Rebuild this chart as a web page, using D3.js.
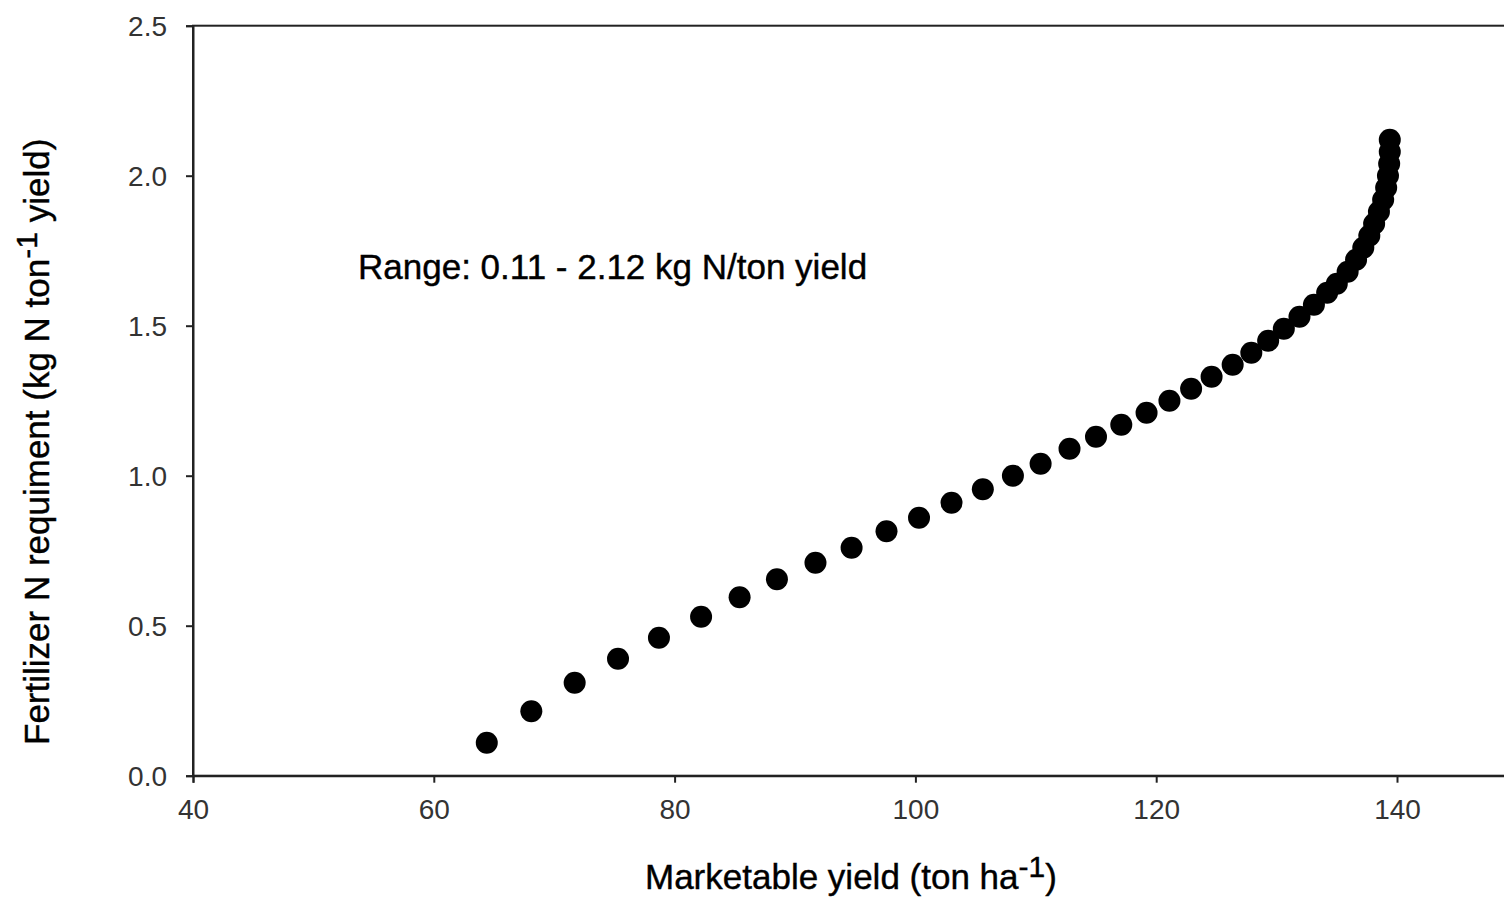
<!DOCTYPE html>
<html>
<head>
<meta charset="utf-8">
<script src="https://cdn.jsdelivr.net/npm/d3@7"></script>
<style>
  html, body { margin: 0; padding: 0; background: #fff; overflow: hidden; }
  svg { display: block; }
  .tick text { font-family: "Liberation Sans", Arial, sans-serif; font-size: 28px; fill: #333; }
  .title { font-family: "Liberation Sans", Arial, sans-serif; font-size: 35px; fill: #000; stroke: #000; stroke-width: 0.4px; }
</style>
</head>
<body>
<svg id="chart" width="1504" height="899"></svg>
<script>
// Marketable yield (ton/ha) and fertilizer N requirement (kg N per ton yield)
const yieldValues = [
  64.4, 68.1, 71.7, 75.3, 78.7, 82.2, 85.4, 88.5, 91.7, 94.7,
  97.6, 100.3, 103.0, 105.6, 108.1, 110.4, 112.8, 115.0, 117.1, 119.2,
  121.1, 122.9, 124.6, 126.35, 127.9, 129.3, 130.6, 131.9, 133.1, 134.2,
  135.0, 135.9, 136.6, 137.2, 137.7, 138.1, 138.5, 138.85, 139.1, 139.25,
  139.35, 139.4, 139.4
];
const nRequirement = [
  0.11, 0.215, 0.31, 0.39, 0.46, 0.53, 0.595, 0.655, 0.71, 0.76,
  0.815, 0.86, 0.91, 0.955, 1.0, 1.04, 1.09, 1.13, 1.17, 1.21,
  1.25, 1.29, 1.33, 1.37, 1.41, 1.45, 1.49, 1.53, 1.57, 1.61,
  1.64, 1.68, 1.72, 1.76, 1.80, 1.84, 1.88, 1.92, 1.96, 2.00,
  2.04, 2.08, 2.12
];
const xTicks = [40, 60, 80, 100, 120, 140];
const yTicks = [0, 0.5, 1.0, 1.5, 2.0, 2.5];
const rangeNote = "Range: 0.11 - 2.12 kg N/ton yield";

const svg = d3.select("#chart");
const plotLeft = 193, plotTop = 25.7, plotBottom = 775.7;

const x = d3.scaleLinear().domain([40, 160]).range([plotLeft, plotLeft + 12.04 * 120]);
const y = d3.scaleLinear().domain([0, 2.5]).range([plotBottom, plotTop]);

// plot frame
svg.append("rect")
  .attr("x", x(40)).attr("y", y(2.5))
  .attr("width", x(160) - x(40)).attr("height", y(0) - y(2.5))
  .attr("fill", "none").attr("stroke", "#222").attr("stroke-width", 2);

// x axis
const gx = svg.append("g").attr("transform", `translate(0,${y(0)})`)
  .call(d3.axisBottom(x).tickValues(xTicks).tickFormat(d3.format("d")).tickSize(7).tickPadding(16));
// y axis
const gy = svg.append("g").attr("transform", `translate(${x(40)},0)`)
  .call(d3.axisLeft(y).tickValues(yTicks).tickFormat(d3.format(".1f")).tickSize(7).tickPadding(19));

[gx, gy].forEach(g => {
  g.select(".domain").attr("stroke", "#222").attr("stroke-width", 2);
  g.selectAll(".tick line").attr("stroke", "#222").attr("stroke-width", 2);
  g.selectAll(".tick text").attr("font-family", null).attr("font-size", null).attr("fill", null);
});
gy.selectAll(".tick text").attr("dy", "0.36em");

// data points
const pts = yieldValues.map((v, i) => ({ x: v, y: nRequirement[i] }));
svg.append("g").selectAll("circle").data(pts).join("circle")
  .attr("cx", d => x(d.x)).attr("cy", d => y(d.y))
  .attr("r", 11).attr("fill", "#000");

// annotation
svg.append("text").attr("class", "title")
  .attr("x", 358).attr("y", 279).text(rangeNote);

// x axis title
const xt = svg.append("text").attr("class", "title").attr("x", 645).attr("y", 889);
xt.append("tspan").text("Marketable yield (ton ha");
xt.append("tspan").attr("dy", -12).attr("font-size", 30).text("-1");
xt.append("tspan").attr("dy", 12).text(")");

// y axis title
const yt = svg.append("text").attr("class", "title")
  .attr("transform", "translate(49,745) rotate(-90)");
yt.append("tspan").text("Fertilizer N requiment (kg N ton");
yt.append("tspan").attr("dy", -12).attr("font-size", 30).text("-1");
yt.append("tspan").attr("dy", 12).text(" yield)");
</script>
</body>
</html>
